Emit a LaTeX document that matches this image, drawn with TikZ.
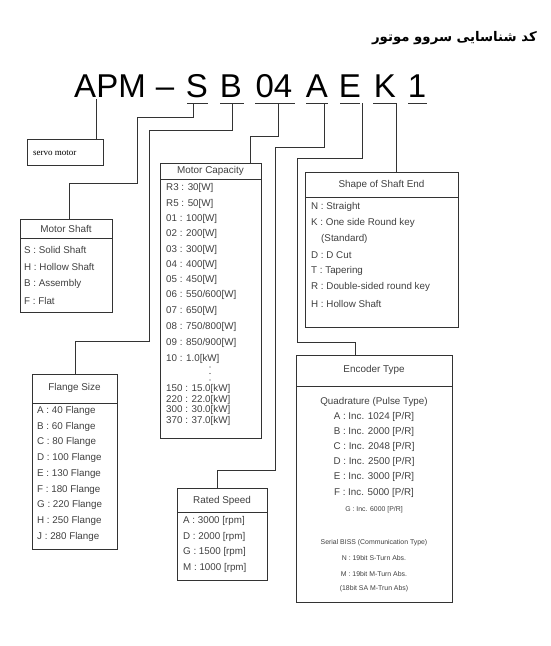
\documentclass[tikz,border=0pt]{standalone}
\usepackage{fontspec}
\setmainfont{Liberation Sans}
\newfontfamily\arabicfont[Script=Arabic]{DejaVu Sans}
\newfontfamily\serifsmall{Liberation Serif}
\TeXXeTstate=1
\definecolor{ln}{HTML}{333333}
\definecolor{tx}{HTML}{404040}
\tikzset{
  box/.style={draw=ln, line width=0.9pt, fill=white, anchor=north west, inner sep=0pt, minimum width=#1},
  conn/.style={draw=ln, line width=0.9pt},
  code/.style={font=\fontsize{33}{33}\selectfont, anchor=base, inner sep=0pt, text=black},
  item/.style={font=\fontsize{9.8}{10}\selectfont, text=tx, anchor=west, inner sep=0pt},
  citem/.style={font=\fontsize{9.8}{10}\selectfont, text=tx, anchor=center, inner sep=0pt},
  sitem/.style={font=\fontsize{6.9}{7}\selectfont, text=tx, anchor=center, inner sep=0pt},
  ttl/.style={font=\fontsize{9.9}{10}\selectfont, text=tx, anchor=center, inner sep=0pt},
}
\begin{document}
\begin{tikzpicture}[x=1pt,y=-1pt]
\useasboundingbox[fill=white] (0,0) rectangle (550,646);

% title
\node[anchor=east, inner sep=0pt, font=\arabicfont\bfseries\fontsize{13.3}{14}\selectfont] (title) at (537,38) {\beginR کد شناسایی سروو موتور\endR};

% code letters
\node[code] (cAPM) at (110,97) {APM};
\node[code] (cdash) at (165,97) {–};
\node[code] (cS) at (197,97) {S};
\node[code] (cB) at (231,97) {B};
\node[code] (c04) at (274,97) {04};
\node[code] (cA) at (317,97) {A};
\node[code] (cE) at (350,97) {E};
\node[code] (cK) at (385,97) {K};
\node[code] (c1) at (417,97) {1};
\foreach \n/\a/\b in {cS/187/208, cB/220/244, c04/255/295, cA/306/328, cE/340/360, cK/373/397, c1/408/427}
  \draw[conn] (\a,103) -- (\b,103);

% boxes
\node[box=76pt, minimum height=26pt] (servo) at (27,139) {};
\node[font=\serifsmall\fontsize{9}{9}\selectfont, anchor=west, inner sep=0pt] (servot) at (33,153) {servo motor};

\node[box=92pt, minimum height=93pt] (shaft) at (20,219) {};
\draw[conn] (20,238) -- (112,238);
\node[ttl] (shaftt) at (66,228.5) {Motor Shaft};
\node[item] at (24,250) {S : Solid Shaft};
\node[item] at (24,267) {H : Hollow Shaft};
\node[item] at (24,284) {B : Assembly};
\node[item] at (24,301) {F : Flat};

\node[box=85pt, minimum height=175pt] (flange) at (32,374) {};
\draw[conn] (32,403) -- (117,403);
\node[ttl] (flanget) at (74.5,388) {Flange Size};
\foreach \t [count=\i from 0] in {A : 40 Flange, B : 60 Flange, C : 80 Flange, D : 100 Flange, E : 130 Flange, F : 180 Flange, G : 220 Flange, H : 250 Flange, J : 280 Flange}
  \node[item] at (37,411+15.7*\i) {\t};

\node[box=101pt, minimum height=275pt] (cap) at (160,163) {};
\draw[conn] (160,179) -- (261,179);
\node[ttl] (capt) at (210.5,171) {Motor Capacity};
\foreach \t/\y in {R3 : 30[W]/188, R5 : 50[W]/204, 01 : 100[W]/219, 02 : 200[W]/234, 03 : 300[W]/250, 04 : 400[W]/265, 05 : 450[W]/280, 07 : 650[W]/311, 10 : 1.0[kW]/359, 150 : 15.0[kW]/389, 220 : 22.0[kW]/399.5, 300 : 30.0[kW]/410, 370 : 37.0[kW]/420.5}
  \node[item] at (166,\y) {\t};
\node[item] at (166,295) {06 : 550/600[W]};
\node[item] at (166,327) {08 : 750/800[W]};
\node[item] at (166,343) {09 : 850/900[W]};
\foreach \y in {367,373.5,380}
  \fill[tx] (210,\y) circle (0.55pt);

\node[box=153pt, minimum height=155pt] (shape) at (305,172) {};
\draw[conn] (305,197) -- (458,197);
\node[ttl] (shapet) at (381.5,185) {Shape of Shaft End};
\node[item] at (311,207) {N : Straight};
\node[item] at (311,223) {K : One side Round key};
\node[item] at (321,239) {(Standard)};
\node[item] at (311,255) {D : D Cut};
\node[item] at (311,271) {T : Tapering};
\node[item] at (311,287) {R : Double-sided round key};
\node[item] at (311,304) {H : Hollow Shaft};

\node[box=156pt, minimum height=247pt] (enc) at (296,355) {};
\draw[conn] (296,386) -- (452,386);
\node[ttl] (enct) at (374,370) {Encoder Type};
\node[citem] at (374,402) {Quadrature (Pulse Type)};
\node[citem] at (374,417) {A : Inc. 1024 [P/R]};
\node[citem] at (374,432) {B : Inc. 2000 [P/R]};
\node[citem] at (374,447) {C : Inc. 2048 [P/R]};
\node[citem] at (374,462) {D : Inc. 2500 [P/R]};
\node[citem] at (374,477) {E : Inc. 3000 [P/R]};
\node[citem] at (374,493) {F : Inc. 5000 [P/R]};
\node[sitem] at (374,510) {G : Inc. 6000 [P/R]};
\node[sitem] at (374,543) {Serial BISS (Communication Type)};
\node[sitem] at (374,558) {N : 19bit S-Turn Abs.};
\node[sitem] at (374,574) {M : 19bit M-Turn Abs.};
\node[sitem] at (374,589) {(18bit SA M-Trun Abs)};

\node[box=90pt, minimum height=92pt] (speed) at (177,488) {};
\draw[conn] (177,512) -- (267,512);
\node[ttl] (speedt) at (222,501) {Rated Speed};
\node[item] at (183,521) {A : 3000 [rpm]};
\node[item] at (183,537) {D : 2000 [rpm]};
\node[item] at (183,552) {G : 1500 [rpm]};
\node[item] at (183,568) {M : 1000 [rpm]};

% connectors
\draw[conn] (96,99) -- (servo.north -| 96,0);
\draw[conn] (193,103) -- (193,117) -- (137,117) -- (137,183) -- (69,183) -- (shaft.north -| 69,0);
\draw[conn] (232,103) -- (232,130) -- (149,130) -- (149,341) -- (75,341) -- (flange.north -| 75,0);
\draw[conn] (278,103) -- (278,136) -- (250,136) -- (cap.north -| 250,0);
\draw[conn] (324,103) -- (324,147) -- (275,147) -- (275,470) -- (217,470) -- (speed.north -| 217,0);
\draw[conn] (362,103) -- (362,158) -- (297,158) -- (297,342) -- (355,342) -- (enc.north -| 355,0);
\draw[conn] (396,103) -- (shape.north -| 396,0);
\end{tikzpicture}
\end{document}
